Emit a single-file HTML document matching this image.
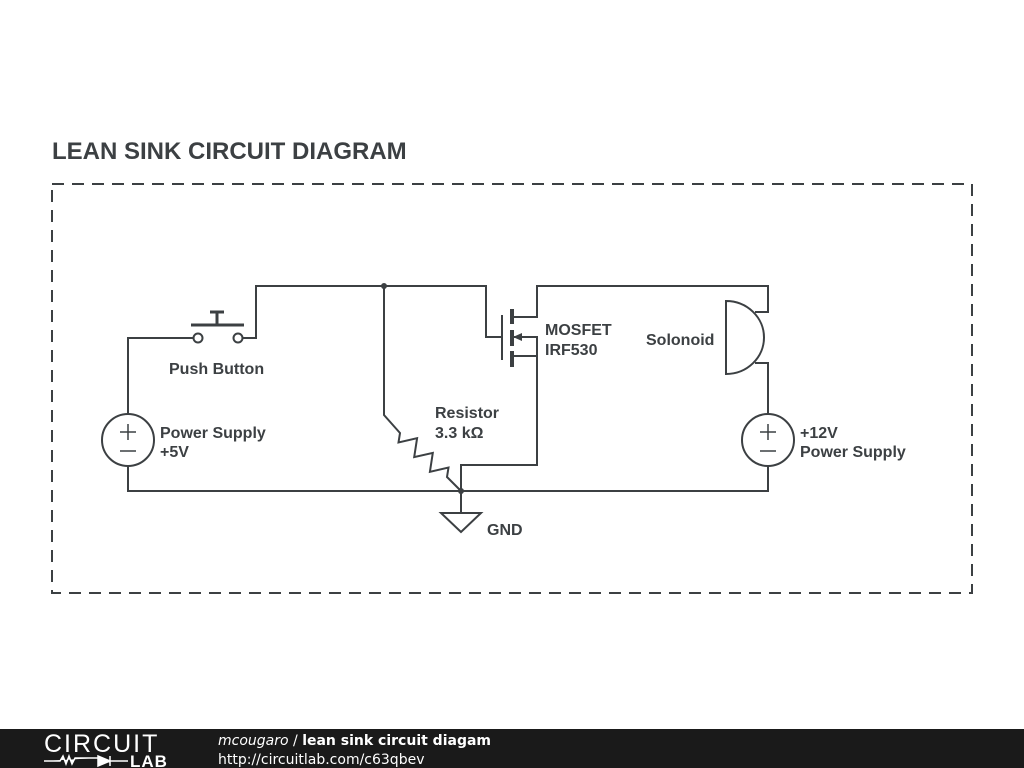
<!DOCTYPE html>
<html><head><style>
html,body{margin:0;padding:0;background:#fff;width:1024px;height:768px;overflow:hidden}
svg{display:block}
text{font-family:"Liberation Sans",sans-serif;font-weight:bold;fill:#3c4043}
</style></head><body>
<svg width="1024" height="768" viewBox="0 0 1024 768">
<text x="52" y="159" font-size="24" style="font-size:24px">LEAN SINK CIRCUIT DIAGRAM</text>
<rect x="52" y="184" width="920" height="409" fill="none" stroke="#3c4043" stroke-width="2" stroke-dasharray="12,8"/>
<g fill="none" stroke="#3c4043" stroke-width="2">
<path d="M128,414 V338 H194"/>
<circle cx="198" cy="338" r="4.5"/>
<circle cx="238" cy="338" r="4.5"/>
<path d="M242,338 H256 V286 H486 V337 H502"/>
<path d="M191,325 H244 M217,325 V312 M210,312 H224" stroke-width="3"/>
<circle cx="128" cy="440" r="26"/>
<path d="M128,466 V491 H768 V466"/>
<path d="M120,432 H136 M128,424 V440 M120,451 H136" stroke-width="1.5"/>
<path d="M384,286 V415 L400,433 L398.5,442.5 L417.1,438.2 L414.2,457.1 L432.8,452.9 L429.9,471.8 L448.5,467.5 L447,477 L461,491"/>
<path d="M461,491 V513 M441,513 H481 L461,532 Z"/>
<path d="M502,315 V360"/>
<path d="M512,309 V324 M512,330 V346 M512,351 V367" stroke-width="4"/>
<path d="M512,317 H537 V286 H768 V312 H755"/>
<path d="M514,337 H537 V465 H461 V491"/>
<path d="M512,356 H537"/>
<path d="M726,301 V374 A38,36.5 0 0 0 726,301 Z"/>
<path d="M755,363 H768 V414"/>
<circle cx="768" cy="440" r="26"/>
<path d="M760,432 H776 M768,424 V440 M760,451 H776" stroke-width="1.5"/>
</g>
<path d="M513,337 L522,333 L522,341 Z" fill="#3c4043"/>
<circle cx="384" cy="286" r="3" fill="#3c4043"/>
<circle cx="461" cy="491" r="3" fill="#3c4043"/>
<g font-size="16" style="font-size:16px">
<text x="169" y="374">Push Button</text>
<text x="160" y="438">Power Supply</text>
<text x="160" y="457">+5V</text>
<text x="435" y="418">Resistor</text>
<text x="435" y="438">3.3 kΩ</text>
<text x="545" y="335">MOSFET</text>
<text x="545" y="355">IRF530</text>
<text x="646" y="345">Solonoid</text>
<text x="800" y="438">+12V</text>
<text x="800" y="457">Power Supply</text>
<text x="487" y="535">GND</text>
</g>
<rect x="0" y="729" width="1024" height="39" fill="#1a1a1a"/>
<text x="44" y="752" font-size="25" style="font-size:25px;font-weight:normal;fill:#fff;letter-spacing:2px">CIRCUIT</text>
<path d="M44,761 H60 L63,756 L66,764 L69,756 L72,764 L75,758 H98 M98,756 V766 L110,761 Z M110,756 V766 M110,761 H128" stroke="#fff" stroke-width="1.5" fill="#fff"/>
<text x="130" y="767" font-size="17" style="font-size:17px;fill:#fff;letter-spacing:1px">LAB</text>
<text x="218" y="745" font-size="14" style="font-size:14px;fill:#fff;font-family:'DejaVu Sans',sans-serif"><tspan font-style="italic" font-weight="normal">mcougaro</tspan><tspan font-weight="normal"> / </tspan>lean sink circuit diagam</text>
<text x="218" y="764" font-size="14" style="font-size:14px;fill:#fff;font-weight:normal;font-family:'DejaVu Sans',sans-serif">http://circuitlab.com/c63qbev</text>
</svg>
</body></html>
